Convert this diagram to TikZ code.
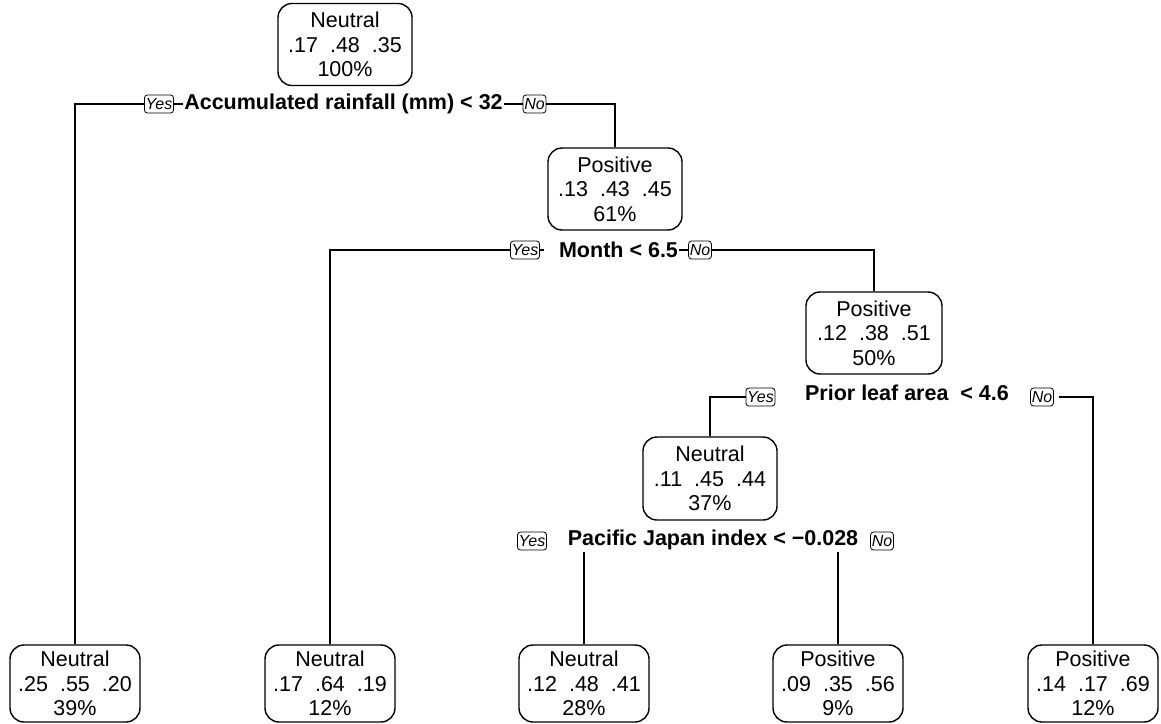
\documentclass[tikz,border=0pt]{standalone}
\usepackage{fontspec}
\setmainfont{Liberation Sans}
\begin{document}
\begin{tikzpicture}[x=1pt,y=-1pt,
  tbox/.style={draw, line width=1.4pt, rounded corners=14pt, align=center,
    font=\fontsize{21.5}{24.5}\selectfont, inner sep=0pt, minimum height=82pt},
  yn/.style={draw, line width=0.8pt, rounded corners=3pt, fill=white,
    font=\fontsize{16}{18}\selectfont\itshape, inner xsep=1.2pt, inner ysep=0.5pt, minimum height=18pt},
  split/.style={font=\fontsize{21.5}{24}\selectfont\bfseries, inner xsep=1pt, inner ysep=2pt},
  conn/.style={line width=1.2pt}]
\useasboundingbox (0,0) rectangle (1161,723);
\newcommand{\probs}[3]{#1\hspace{12pt}#2\hspace{12pt}#3}
% internal nodes
\node[tbox, minimum width=134pt, minimum height=82pt] (root) at (345,44.5) {Neutral\\\probs{.17}{.48}{.35}\\100\%};
\node[tbox, minimum width=134pt] (pos1) at (615,189) {Positive\\\probs{.13}{.43}{.45}\\61\%};
\node[tbox, minimum width=136pt] (pos2) at (874,333) {Positive\\\probs{.12}{.38}{.51}\\50\%};
\node[tbox, minimum width=134pt, minimum height=83pt] (neu3) at (710,478.5) {Neutral\\\probs{.11}{.45}{.44}\\37\%};
% leaves
\node[tbox, minimum width=130pt, minimum height=77pt] (leaf1) at (75,683.5) {Neutral\\\probs{.25}{.55}{.20}\\39\%};
\node[tbox, minimum width=130pt, minimum height=77pt] (leaf2) at (330,683.5) {Neutral\\\probs{.17}{.64}{.19}\\12\%};
\node[tbox, minimum width=130pt, minimum height=77pt] (leaf3) at (584,683.5) {Neutral\\\probs{.12}{.48}{.41}\\28\%};
\node[tbox, minimum width=130pt, minimum height=77pt] (leaf4) at (838,683.5) {Positive\\\probs{.09}{.35}{.56}\\9\%};
\node[tbox, minimum width=130pt, minimum height=77pt] (leaf5) at (1093,683.5) {Positive\\\probs{.14}{.17}{.69}\\12\%};
% split 1
\node[yn] (yes1) at (159,104) {Yes};
\node[split] (lab1) at (343.5,104) {Accumulated rainfall (mm) < 32};
\node[yn] (no1) at (534.5,104) {No};
% split 2
\node[yn] (yes2) at (525,250) {Yes};
\node[split] (lab2) at (618.5,250) {Month < 6.5};
\node[yn] (no2) at (700,250) {No};
% split 3
\node[yn] (yes3) at (760.5,397) {Yes};
\node[split] (lab3) at (907,393) {Prior leaf area\ \ < 4.6};
\node[yn] (no3) at (1042,397) {No};
% split 4
\node[yn] (yes4) at (532,541) {Yes};
\node[split] (lab4) at (713,540) {Pacific Japan index < −0.028};
\node[yn] (no4) at (882,541) {No};
\coordinate (s4l) at (584,552);
\coordinate (s4r) at (838,552);
% connectors
\draw[conn] (leaf1.north) |- (yes1.west);
\draw[conn] (yes1.east) -- (lab1.west);
\draw[conn] (lab1.east) -- (no1.west);
\draw[conn] (no1.east) -| (pos1.north);
\draw[conn] (leaf2.north) |- (yes2.west);
\draw[conn] (yes2.east) -- ([xshift=-14pt]lab2.west);
\draw[conn] (lab2.east) -- (no2.west);
\draw[conn] (no2.east) -| (pos2.north);
\draw[conn] (neu3.north) |- (yes3.west);
\draw[conn] ([xshift=5pt]no3.east) -| (leaf5.north);
\draw[conn] (leaf3.north) -- (s4l);
\draw[conn] (leaf4.north) -- (s4r);
\end{tikzpicture}
\end{document}
